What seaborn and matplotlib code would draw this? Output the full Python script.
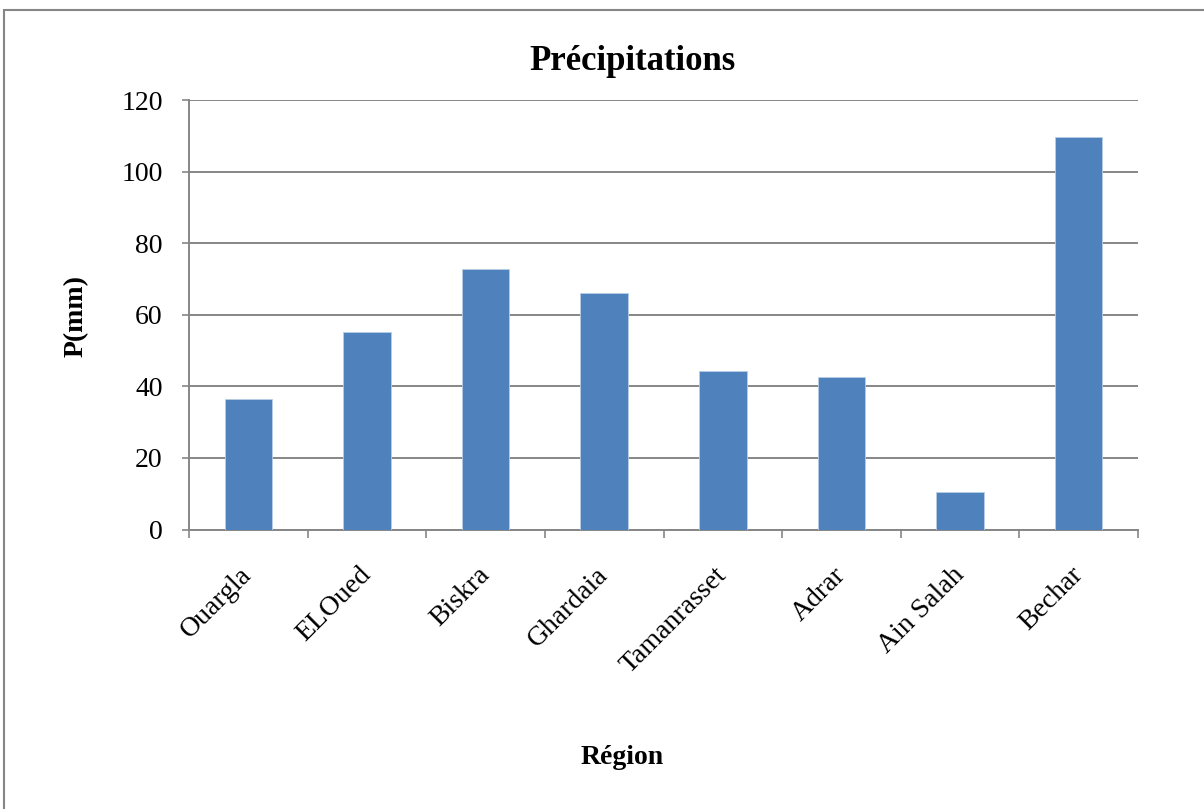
import matplotlib
matplotlib.use("Agg")
import matplotlib.pyplot as plt
import matplotlib.patches as mpatches
import seaborn as sns
import pandas as pd
import numpy as np

regions = ["Ouargla", "ELOued", "Biskra", "Ghardaia", "Tamanrasset", "Adrar", "Ain Salah", "Bechar"]
precip_mm = [36.6, 55.1, 72.7, 66.2, 44.3, 42.7, 10.5, 109.7]
y_ticks = [0, 20, 40, 60, 80, 100, 120]

sns.set_theme(style="white")
plt.rcParams["font.family"] = ["Liberation Serif", "DejaVu Serif"]
plt.rcParams["text.color"] = "black"
plt.rcParams["xtick.labelcolor"] = "black"
plt.rcParams["ytick.labelcolor"] = "black"

df = pd.DataFrame({"Région": regions, "P(mm)": precip_mm})

W, H = 1204, 809
fig = plt.figure(figsize=(W / 100, H / 100), dpi=100)
fig.patch.set_facecolor("white")

grey = "#868686"

# outer chart border
fig.add_artist(mpatches.Rectangle((4 / W, -0.01), 1.02, 1 - 10 / H + 0.01,
                                  transform=fig.transFigure, fill=False,
                                  edgecolor=grey, linewidth=1.5))

ax = fig.add_axes([189 / W, 1 - 529.5 / H, (1138 - 189) / W, (529.5 - 100) / H])

sns.barplot(data=df, x="Région", y="P(mm)", ax=ax, color="#4F81BD",
            width=0.4, saturation=1, edgecolor="#b9cde5", linewidth=0.6, zorder=3)

ax.set_xlim(-0.5, len(regions) - 0.5)
ax.set_ylim(0, 120)
ax.set_yticks(y_ticks)
ax.set_yticklabels([str(v) for v in y_ticks], fontsize=20, color="black")

ax.yaxis.grid(True, color=grey, linewidth=1.4, zorder=0)
ax.xaxis.grid(False)
ax.set_axisbelow(True)

for side in ["top", "right"]:
    ax.spines[side].set_visible(False)
for side in ["left", "bottom"]:
    ax.spines[side].set_color(grey)
    ax.spines[side].set_linewidth(1.4)

ax.tick_params(axis="y", which="major", length=5, width=1.2, color=grey,
               direction="out", left=True, pad=14)
ax.set_xticks(np.arange(len(regions)))
ax.set_xticks(np.arange(-0.5, len(regions)), minor=True)
ax.tick_params(axis="x", which="major", length=0, pad=30)
ax.tick_params(axis="x", which="minor", length=6, width=1.2, color=grey,
               direction="out", bottom=True)
ax.set_xticklabels(regions, fontsize=20, rotation=45, ha="right",
                   rotation_mode="anchor", va="center", color="black")

ax.set_xlabel("")
ax.set_ylabel("")
fig.text(622 / W, 1 - 757 / H, "Région", fontsize=20, fontweight="bold",
         ha="center", va="center", color="black")
fig.text(76 / W, 1 - 316 / H, "P(mm)", fontsize=20, fontweight="bold",
         ha="center", va="center", rotation=90, color="black")
fig.text(633 / W, 1 - 62 / H, "Précipitations", fontsize=25, fontweight="bold",
         ha="center", va="center", color="black")

fig.savefig("out.png", dpi=100, facecolor="white")
